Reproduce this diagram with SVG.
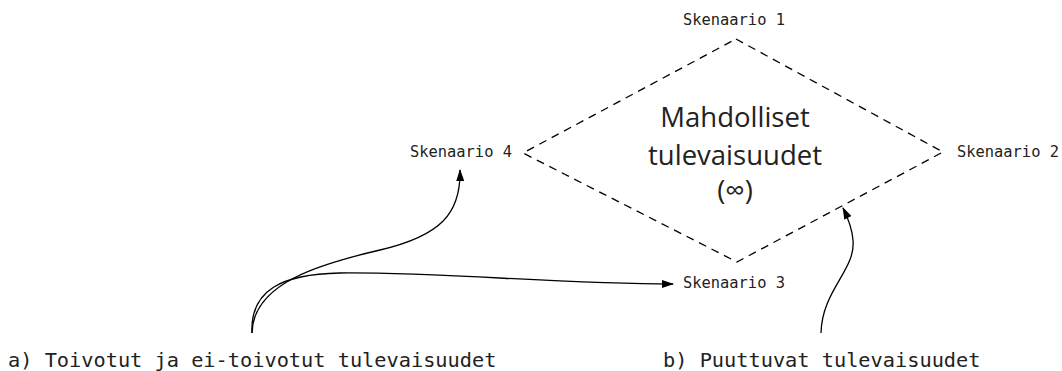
<svg xmlns="http://www.w3.org/2000/svg" width="1062" height="371" viewBox="0 0 1062 371">
<style>
.mono{font-family:"DejaVu Sans Mono","Liberation Mono",monospace;fill:#222;}
.lbl{font-size:15.4px;}
.big{font-size:20.3px;}
.ctr{font-family:"Open Sans","Noto Sans",sans-serif;font-size:27.5px;fill:#222;text-anchor:middle;}
.edge{fill:none;stroke:#000;stroke-width:1.3;marker-end:url(#ah);}
</style>
<defs>
<marker id="ah" viewBox="0 0 12 8" refX="11" refY="4" markerWidth="12" markerHeight="8" markerUnits="userSpaceOnUse" orient="auto">
<path d="M0,0 L12,4 L0,8 Z" fill="#000"/>
</marker>
</defs>
<rect width="1062" height="371" fill="#fff"/>
<g id="possible-futures">
<polygon points="736,39 943,152 737,262 523,153" fill="none" stroke="#000" stroke-width="1.3" stroke-dasharray="8,6"/>
<text class="ctr" x="735" y="127">Mahdolliset</text>
<text class="ctr" x="735" y="165">tulevaisuudet</text>
<text class="ctr" x="735" y="200">(∞)</text>
</g>
<g id="scenario1"><text class="mono lbl" x="683" y="25">Skenaario 1</text></g>
<g id="scenario2"><text class="mono lbl" x="957" y="157">Skenaario 2</text></g>
<g id="scenario3"><text class="mono lbl" x="683" y="288">Skenaario 3</text></g>
<g id="scenario4"><text class="mono lbl" x="410" y="157">Skenaario 4</text></g>
<g id="label-a"><text class="mono big" x="8" y="367">a) Toivotut ja ei-toivotut tulevaisuudet</text></g>
<g id="label-b"><text class="mono big" x="663" y="367">b) Puuttuvat tulevaisuudet</text></g>
<g id="connectors">
<path class="edge" d="M252,333 C253,283 320,264 380,250 C440,236 461,214 460,170"/>
<path class="edge" d="M252,333 C250,290 282,274 340,273 C440,272 560,284 673,284"/>
<path class="edge" d="M821,333 C822,290 856,270 853,240 C852,228 848,218 843,208"/>
</g>
</svg>
